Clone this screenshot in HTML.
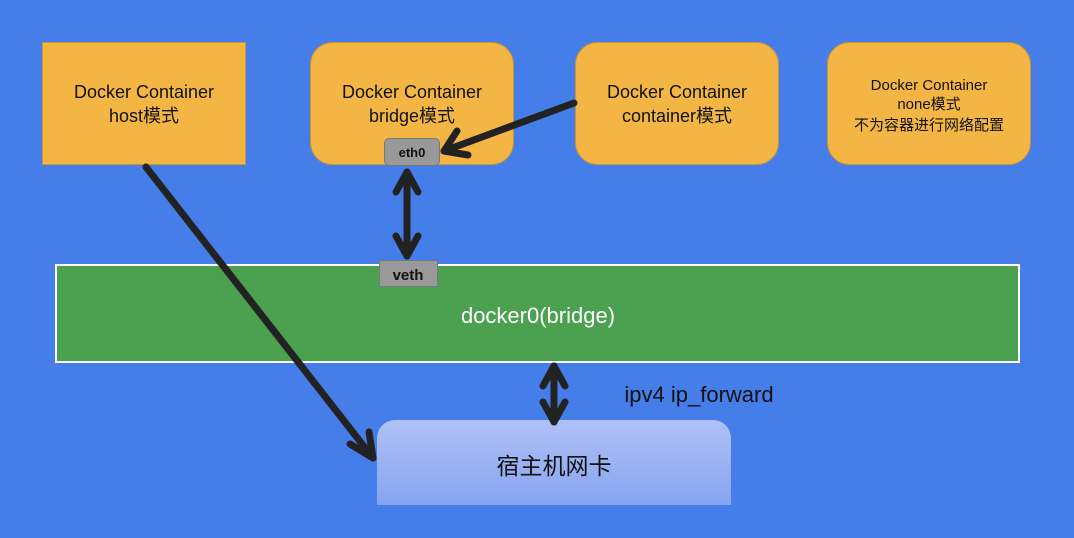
<!DOCTYPE html>
<html><head><meta charset="utf-8"><style>
body{margin:0;background:#457ee8;}
svg{display:block}
text{font-family:"Liberation Sans","Noto Sans CJK SC",sans-serif;fill:#111;text-anchor:middle}
</style></head><body>
<svg width="1074" height="538" viewBox="0 0 1074 538">
<defs><linearGradient id="g" x1="0" y1="0" x2="0" y2="1"><stop offset="0" stop-color="#afc1f6"/><stop offset="1" stop-color="#88a4f0"/></linearGradient></defs>
<rect width="1074" height="538" fill="#457ee8"/>
<rect x="42.5" y="42.5" width="203" height="122" fill="#f3b644" stroke="#c99530"/>
<text x="144" y="98" font-size="18">Docker Container</text>
<text x="144" y="122" font-size="18">host模式</text>
<rect x="310.5" y="42.5" width="203" height="122" rx="22" fill="#f3b644" stroke="#c99530"/>
<text x="412" y="98" font-size="18">Docker Container</text>
<text x="412" y="122" font-size="18">bridge模式</text>
<rect x="575.5" y="42.5" width="203" height="122" rx="22" fill="#f3b644" stroke="#c99530"/>
<text x="677" y="98" font-size="18">Docker Container</text>
<text x="677" y="122" font-size="18">container模式</text>
<rect x="827.5" y="42.5" width="203" height="122" rx="22" fill="#f3b644" stroke="#c99530"/>
<text x="929" y="90" font-size="15">Docker Container</text>
<text x="929" y="109" font-size="15">none模式</text>
<text x="929" y="130" font-size="15">不为容器进行网络配置</text>
<rect x="384.5" y="138.5" width="55" height="27" rx="5" fill="#999" stroke="#777"/>
<text x="412" y="157" font-size="13" font-weight="bold">eth0</text>
<rect x="56" y="265" width="963" height="97" fill="#4ba14f" stroke="#fff" stroke-width="2"/>
<text x="538" y="323" font-size="22" style="fill:#fff">docker0(bridge)</text>
<rect x="379.5" y="260.5" width="58" height="26" fill="#999" stroke="#777"/>
<text x="408" y="280" font-size="15" font-weight="bold">veth</text>
<path d="M377 505 V438 a18 18 0 0 1 18 -18 H713 a18 18 0 0 1 18 18 V505 Z" fill="url(#g)"/>
<text x="554" y="474" font-size="23">宿主机网卡</text>
<text x="699" y="402" font-size="22">ipv4 ip_forward</text>
<g stroke="#222" stroke-width="7" fill="none" stroke-linecap="round" stroke-linejoin="round">
<line x1="146" y1="167" x2="373" y2="458"/>
<polyline points="350,444 373,458 369,432"/>
<line x1="574" y1="103" x2="444" y2="151"/>
<polyline points="457,131 444,151 468,155"/>
<line x1="407" y1="172" x2="407" y2="256"/>
<polyline points="396,192 407,172 418,192"/>
<polyline points="396,236 407,256 418,236"/>
<line x1="554" y1="366" x2="554" y2="422"/>
<polyline points="543,386 554,366 565,386"/>
<polyline points="543,402 554,422 565,402"/>
</g>
</svg>
</body></html>
